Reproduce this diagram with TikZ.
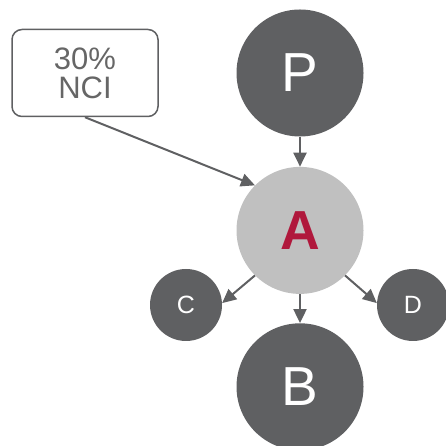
\documentclass[tikz,border=0pt]{standalone}
\usepackage{fontspec}
\setmainfont{Liberation Sans}
\usetikzlibrary{positioning,arrows.meta}
\definecolor{darkgrey}{HTML}{5F6062}
\definecolor{lightgrey}{HTML}{C0C0C0}
\definecolor{textgrey}{HTML}{666666}
\definecolor{cred}{HTML}{B0183C}
\begin{document}
\begin{tikzpicture}[x=1pt, y=1pt, >={Triangle[length=14pt,width=13pt]},
    big/.style = {circle, fill=darkgrey, text=white, minimum size=127pt, inner sep=0pt, font=\fontsize{55}{55}\selectfont},
    small/.style = {circle, fill=darkgrey, text=white, minimum size=72pt, inner sep=0pt, font=\fontsize{25}{25}\selectfont},
    notebox/.style = {draw=darkgrey, line width=1.5pt, rounded corners=10pt, minimum width=146pt, minimum height=87pt, align=center, text=textgrey, font=\fontsize{31}{29}\selectfont},
    link/.style = {->, draw=darkgrey, line width=2pt}
    ]
    \useasboundingbox (0,0) rectangle (445,446);
    \node[big] (P) at (300,373) {P};
    \node[big, fill=lightgrey, text=cred, font=\fontsize{55}{55}\selectfont\bfseries] (A) [below=30pt of P] {A};
    \node[big] (B) [below=29pt of A] {B};
    \node[small] (C) at (186,141) {C};
    \node[small] (D) at (413,141) {D};
    \node[notebox] (N) at (85,373) {30\%\\NCI};

    \draw[link] (P) -- (A);
    \draw[link] (A) -- (B);
    \draw[link] (A.225) -- (C.3);
    \draw[link] (A.315) -- (D.177);
    \draw[link] (N.south) -- (A.135);
\end{tikzpicture}
\end{document}
